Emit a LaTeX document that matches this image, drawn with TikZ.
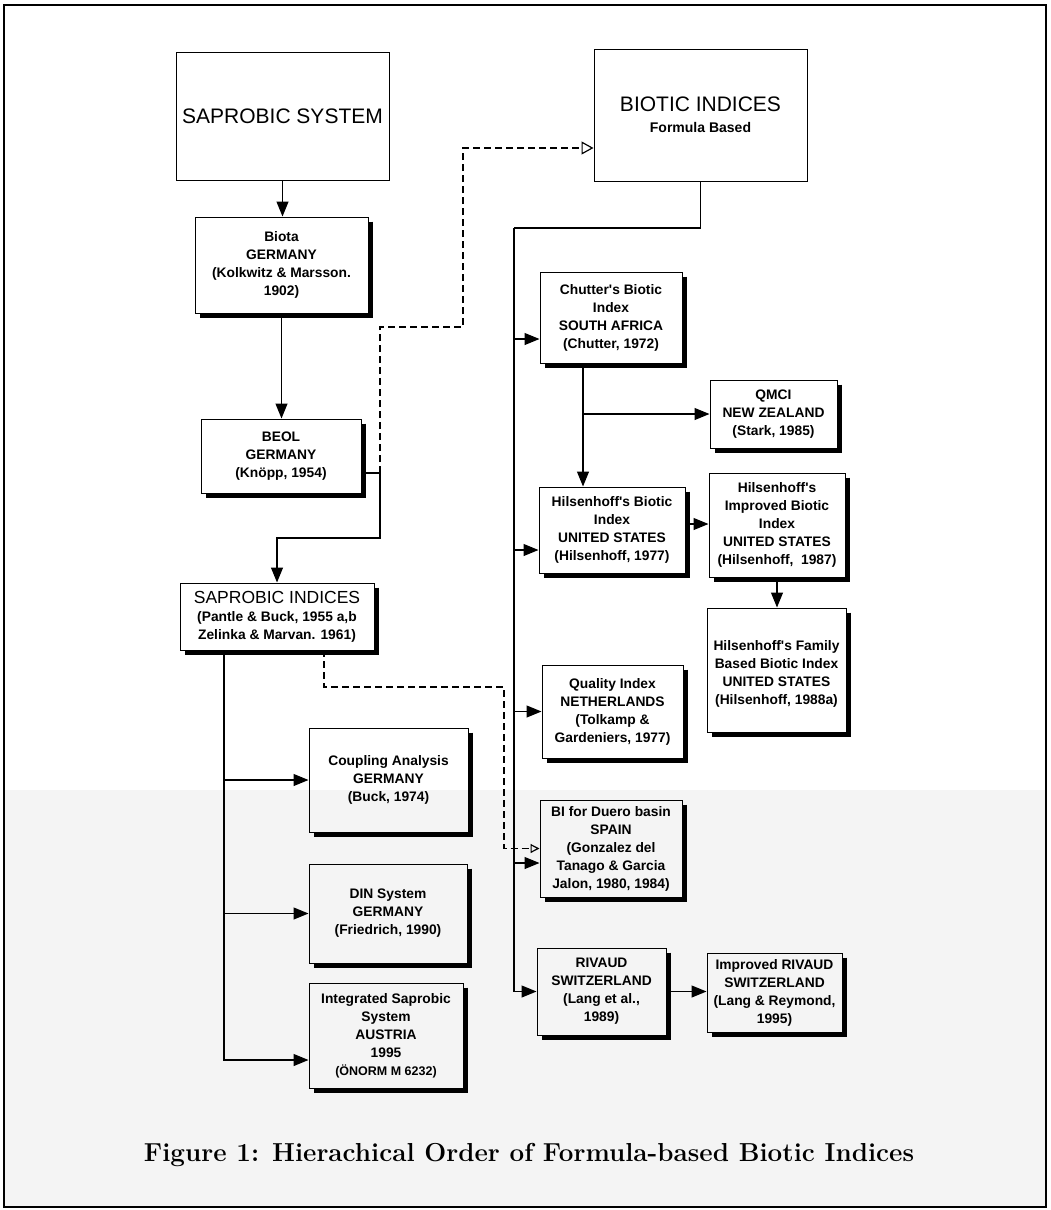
\documentclass[tikz,border=0pt]{standalone}
\usepackage{fontspec}
\newfontfamily\arial{Liberation Sans}
\usetikzlibrary{arrows.meta}
\begin{document}
\begin{tikzpicture}[x=1pt,y=-1pt,
  box/.style={draw, line width=1pt, rectangle, align=center, inner sep=0pt,
    font=\arial\bfseries\fontsize{13.8}{18}\selectfont},
  bigbox/.style={draw, line width=1pt, rectangle, align=center, inner sep=0pt,
    font=\arial\fontsize{21}{24}\selectfont},
  conn/.style={line width=1.2pt, -{Triangle[length=15pt,width=12pt]}},
  plainline/.style={line width=1.2pt},
  dashconn/.style={line width=1.2pt, dash pattern=on 7pt off 4pt},
  shadowline/.style={line width=4.5pt, line cap=butt},
]
\useasboundingbox (0,0) rectangle (1051,1210);
\fill[gray!9] (5,790) rectangle (1045,1207);
\draw[line width=1.5pt] (4,5) rectangle (1046,1207);

% top boxes
\node[bigbox, minimum width=213pt, minimum height=128pt] (sap) at (282.5,116) {SAPROBIC SYSTEM};
\node[bigbox, minimum width=213pt, minimum height=132pt] (bio) at (700.5,115)
  {BIOTIC INDICES\\[-3pt]{\bfseries\fontsize{14}{16}\selectfont Formula Based}};

% left column
\node[box, minimum width=173pt, minimum height=96pt] (biota) at (281.5,265)
  {Biota\\GERMANY\\(Kolkwitz \& Marsson.\\1902)};
\node[box, minimum width=160pt, minimum height=74pt] (beol) at (281,456)
  {BEOL\\GERMANY\\(Knöpp, 1954)};
\node[box, minimum width=194pt, minimum height=67pt] (sapi) at (277,616.5)
  {{\mdseries\fontsize{17.5}{18}\selectfont SAPROBIC INDICES}\\(Pantle \& Buck, 1955 a,b\\Zelinka \& Marvan. 1961)};
\node[box, minimum width=159pt, minimum height=104pt] (coup) at (388.5,780)
  {Coupling Analysis\\GERMANY\\(Buck, 1974)};
\node[box, minimum width=158pt, minimum height=99pt] (din) at (388,913.5)
  {DIN System\\GERMANY\\(Friedrich, 1990)};
\node[box, minimum width=154pt, minimum height=105pt] (integ) at (386,1035.5)
  {Integrated Saprobic\\System\\AUSTRIA\\1995\\{\fontsize{12.5}{18}\selectfont(ÖNORM M 6232)}};

% right columns
\node[box, minimum width=142pt, minimum height=91pt] (chut) at (611,317.5)
  {Chutter's Biotic\\Index\\SOUTH AFRICA\\(Chutter, 1972)};
\node[box, minimum width=127pt, minimum height=68pt] (qmci) at (773.5,414)
  {QMCI\\NEW ZEALAND\\(Stark, 1985)};
\node[box, minimum width=146pt, minimum height=86pt] (hils) at (612,530)
  {Hilsenhoff's Biotic\\Index\\UNITED STATES\\(Hilsenhoff, 1977)};
\node[box, minimum width=136pt, minimum height=104pt] (impr) at (777,525)
  {Hilsenhoff's\\Improved Biotic\\Index\\UNITED STATES\\(Hilsenhoff,~ 1987)};
\node[box, minimum width=139pt, minimum height=124pt] (fam) at (776.5,670)
  {\rule{0pt}{18pt}Hilsenhoff's Family\\Based Biotic Index\\UNITED STATES\\(Hilsenhoff, 1988a)};
\node[box, minimum width=141pt, minimum height=93pt] (qual) at (612.5,711.5)
  {Quality Index\\NETHERLANDS\\(Tolkamp \&\\Gardeniers, 1977)};
\node[box, minimum width=142pt, minimum height=97pt] (duero) at (611,848.5)
  {BI for Duero basin\\SPAIN\\(Gonzalez del\\Tanago \& Garcia\\Jalon, 1980, 1984)};
\node[box, minimum width=129pt, minimum height=87pt] (riv) at (601.5,991.5)
  {RIVAUD\\SWITZERLAND\\(Lang et al.,\\1989)};
\node[box, minimum width=135pt, minimum height=79pt] (iriv) at (774.5,992.5)
  {Improved RIVAUD\\SWITZERLAND\\(Lang \& Reymond,\\1995)};

% shadows
\foreach \n in {biota,beol,sapi,coup,din,integ,chut,qmci,hils,impr,fam,qual,duero,riv,iriv}
  \draw[shadowline] ([shift={(2.5pt,-5pt)}]\n.north east) |- ([shift={(5pt,-2.5pt)}]\n.south west);

% caption
\node[font=\bfseries\fontsize{26}{30}\selectfont] (cap) at (529,1155)
  {Figure 1: Hierachical Order of Formula-based Biotic Indices};

% coordinates
\coordinate (j1) at (380,473);
\coordinate (j2) at (380,538);
\coordinate (d2) at (463,327);
\coordinate (d3) at (bio.west |- 0,148);
\coordinate (t0) at (224,650);
\coordinate (s0) at (324,650);
\coordinate (s1) at (504,687);
\coordinate (r0) at (514,228);
\coordinate (c0) at (583,363);

% left connectors
\draw[conn] (sap.south) -- (sap.south |- biota.north);
\draw[conn] (biota.south) -- (biota.south |- beol.north);
\draw[plainline] (beol.east |- j1) -- (j1);
\draw[conn] (j1) -- (j2) -| (sapi.north);
\draw[dashconn, -{Triangle[open,length=12pt,width=13pt]}] (j1) |- (d2) |- (d3);
\draw[conn] (t0) |- (coup.west);
\draw[conn] (t0) |- (din.west);
\draw[conn] (t0) |- (integ.west |- 0,1060);
\draw[dashconn, -{Triangle[open,length=9pt,width=9pt]}] (s0) |- (s1) |- (duero.west);

% right connectors
\draw[plainline] (bio.south) |- (r0);
\draw[conn] (r0) |- (chut.west |- 0,339);
\draw[conn] (r0) |- (hils.west |- 0,550);
\draw[conn] (r0) |- (qual.west);
\draw[conn] (r0) |- (duero.west |- 0,863);
\draw[conn] (r0) |- (riv.west);
\draw[conn] (c0) -- (c0 |- hils.north);
\draw[conn] (c0 |- qmci.west) -- (qmci.west);
\draw[conn] (hils.east |- 0,524) -- (impr.west |- 0,524);
\draw[conn] (impr.south) -- (impr.south |- fam.north);
\draw[conn] (riv.east) -- (riv.east -| iriv.west);
\end{tikzpicture}
\end{document}
